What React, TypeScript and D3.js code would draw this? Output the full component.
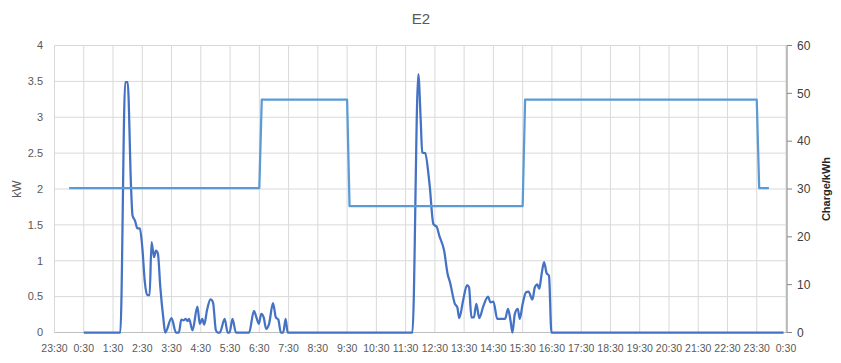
import React from "react";
import * as d3 from "d3";

const chartTitle = "E2";
const leftAxisTitle = "kW";
const rightAxisTitle = "Charge/kWh";

const xTickLabels = [
  "23:30", "0:30", "1:30", "2:30", "3:30", "4:30", "5:30", "6:30", "7:30", "8:30",
  "9:30", "10:30", "11:30", "12:30", "13:30", "14:30", "15:30", "16:30", "17:30",
  "18:30", "19:30", "20:30", "21:30", "22:30", "23:30", "0:30",
];
const kwTicks = [0, 0.5, 1, 1.5, 2, 2.5, 3, 3.5, 4];
const chargeTicks = [0, 10, 20, 30, 40, 50, 60];

// minutes since midnight
const powerMinutes = [
  30, 105, 115, 120, 127, 130, 135, 140, 145, 150, 155, 160, 165, 169, 174, 178, 182, 187, 193, 197,
  210, 219, 225, 230, 235, 239, 243, 246, 253, 263, 268, 273, 277, 283, 290, 295, 301, 305, 309,
  319, 325, 329, 335, 342, 369, 379, 384, 389, 394, 399, 404, 410, 418, 424, 429, 434, 439, 444, 448,
  704, 716, 721, 724, 730, 739, 747, 754, 759, 769, 776, 781, 791, 796, 800, 808, 816, 820, 825,
  830, 835, 841, 849, 859, 864, 870, 878, 894, 900, 905, 909, 914, 920, 924, 930, 937, 942, 950,
  955, 960, 964, 969, 974, 979, 984, 989, 1465,
];
const powerKw = [
  0, 0, 3.49, 3.49, 2.02, 1.63, 1.56, 1.45, 1.45, 1.19, 0.72, 0.52, 0.52, 1.26, 1.05, 1.14, 1.1, 0.63, 0.21, 0,
  0.2, 0, 0, 0.18, 0.17, 0.19, 0.16, 0.19, 0.03, 0.36, 0.12, 0.19, 0.11, 0.32, 0.46, 0.42, 0.03, 0, 0,
  0.19, 0, 0, 0.19, 0, 0, 0.3, 0.21, 0.12, 0.26, 0.21, 0.05, 0.12, 0.41, 0.21, 0.18, 0, 0, 0.19, 0,
  0, 3.6, 2.95, 2.51, 2.5, 2.07, 1.51, 1.47, 1.35, 1.14, 0.82, 0.7, 0.4, 0.35, 0.2, 0.45, 0.66, 0.63, 0.21,
  0.21, 0.4, 0.2, 0.36, 0.5, 0.42, 0.43, 0.19, 0.19, 0.33, 0.17, 0, 0.26, 0.33, 0.19, 0.4, 0.56, 0.57, 0.46,
  0.63, 0.67, 0.61, 0.82, 0.98, 0.83, 0.79, 0, 0,
];

const chargeMinutes = [0, 390, 395, 570, 575, 930, 935, 1410, 1415, 1435];
const chargeValues = [30.2, 30.2, 48.7, 48.7, 26.4, 26.4, 48.7, 48.7, 30.2, 30.2];

const W = 841;
const H = 363;
const left = 54.5;
const right = 786;
const top = 45.5;
const bottom = 332.5;

const FONT = "'Liberation Sans', Arial, sans-serif";

export default function App() {
  const x = d3.scaleLinear().domain([-30, 1470]).range([left, right]);
  const yL = d3.scaleLinear().domain([0, 4]).range([bottom, top]);
  const yR = d3.scaleLinear().domain([0, 60]).range([bottom, top]);

  const powerData = powerMinutes.map((m, i) => [m, powerKw[i]] as [number, number]);
  const chargeData = chargeMinutes.map((m, i) => [m, chargeValues[i]] as [number, number]);

  const powerLine = d3
    .line<[number, number]>()
    .x((d) => x(d[0]))
    .y((d) => yL(d[1]))
    .curve(d3.curveMonotoneX);
  const chargeLine = d3
    .line<[number, number]>()
    .x((d) => x(d[0]))
    .y((d) => yR(d[1]));

  const xTickMinutes = xTickLabels.map((_, i) => -30 + 60 * i);

  return (
    <svg
      width={W}
      height={H}
      style={{ position: "fixed", left: 0, top: 0, background: "#fff" }}
      fontFamily={FONT}
    >
      <rect x={0} y={0} width={W} height={H} fill="#fff" />
      <text x={421} y={24} textAnchor="middle" fontSize={15} fill="#595959">
        {chartTitle}
      </text>

      {/* horizontal gridlines */}
      {kwTicks.map((t) => (
        <line key={"h" + t} x1={left} x2={right} y1={yL(t)} y2={yL(t)} stroke="#d9d9d9" strokeWidth={1} />
      ))}
      {/* vertical gridlines */}
      {xTickMinutes.map((m, i) => (
        <line key={"v" + i} x1={x(m)} x2={x(m)} y1={top} y2={bottom} stroke="#d9d9d9" strokeWidth={1} />
      ))}
      {/* bottom axis line */}
      <line x1={left} x2={right + 1} y1={bottom} y2={bottom} stroke="#bfbfbf" strokeWidth={1} />
      {/* right axis */}
      <line x1={right + 1} x2={right + 1} y1={top} y2={bottom} stroke="#868686" strokeWidth={1} />
      {chargeTicks.map((t) => (
        <g key={"r" + t}>
          <line x1={right + 1} x2={right + 6} y1={yR(t)} y2={yR(t)} stroke="#868686" strokeWidth={1} />
          <text x={797} y={yR(t)} dy="0.35em" fontSize={12} fill="#404040">
            {t}
          </text>
        </g>
      ))}

      {/* left tick labels */}
      {kwTicks.map((t) => (
        <text key={"l" + t} x={43} y={yL(t)} dy="0.35em" textAnchor="end" fontSize={11} fill="#595959">
          {String(t)}
        </text>
      ))}

      {/* x tick labels */}
      {xTickLabels.map((lab, i) => (
        <text key={"x" + i} x={x(xTickMinutes[i])} y={352} textAnchor="middle" fontSize={10.5} fill="#595959">
          {lab}
        </text>
      ))}

      {/* axis titles */}
      <text
        transform="translate(21,189) rotate(-90)"
        textAnchor="middle"
        fontSize={12}
        fill="#595959"
      >
        {leftAxisTitle}
      </text>
      <text
        transform="translate(830,189) rotate(-90)"
        textAnchor="middle"
        fontSize={11}
        fontWeight="bold"
        fill="#262626"
      >
        {rightAxisTitle}
      </text>

      {/* series */}
      <path d={powerLine(powerData) || ""} fill="none" stroke="#4472C4" strokeWidth={2.25} strokeLinejoin="round" />
      <path d={chargeLine(chargeData) || ""} fill="none" stroke="#5B9BD5" strokeWidth={2.25} strokeLinejoin="round" />
    </svg>
  );
}
